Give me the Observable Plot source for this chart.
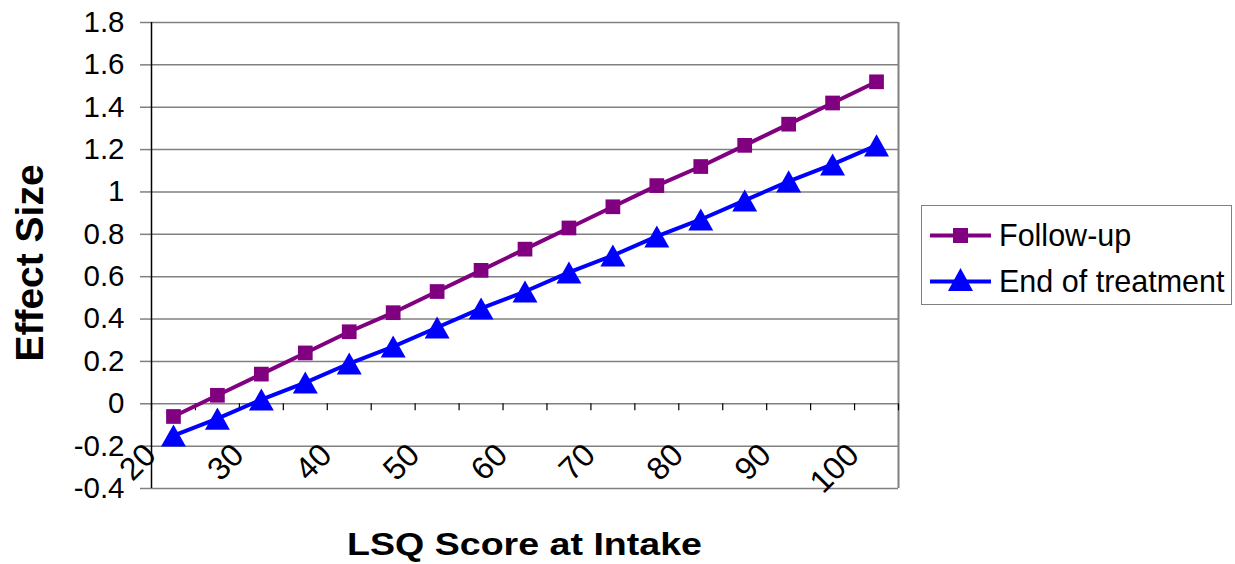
<!DOCTYPE html>
<html>
<head>
<meta charset="utf-8">
<script src="https://cdn.jsdelivr.net/npm/d3@7"></script>
<script src="https://cdn.jsdelivr.net/npm/@observablehq/plot@0.6"></script>
<style>
  html, body { margin: 0; padding: 0; background: #fff; }
  #wrap { position: relative; width: 1235px; height: 564px; font-family: "Liberation Sans", Arial, sans-serif; }
  #legend { position: absolute; left: 921px; top: 205px; width: 309px; height: 98px; border: 1.5px solid #808080; background: #fff; }
  .row { position: absolute; left: 8px; height: 40px; display: flex; align-items: center; font-size: 30.5px; color: #000; }
  .row svg { margin-right: 8px; }
</style>
</head>
<body>
<div id="wrap"></div>
<script>
const categories = [20, 25, 30, 35, 40, 45, 50, 55, 60, 65, 70, 75, 80, 85, 90, 95, 100];
const followUp = [-0.06, 0.04, 0.14, 0.24, 0.34, 0.43, 0.53, 0.63, 0.73, 0.83, 0.93, 1.03, 1.12, 1.22, 1.32, 1.42, 1.52];
const endOfTreatment = [-0.15, -0.07, 0.02, 0.10, 0.19, 0.27, 0.36, 0.45, 0.53, 0.62, 0.70, 0.79, 0.87, 0.96, 1.05, 1.13, 1.22];
const xTickLabels = [20, 30, 40, 50, 60, 70, 80, 90, 100];
const yTicks = [-0.4, -0.2, 0, 0.2, 0.4, 0.6, 0.8, 1, 1.2, 1.4, 1.6, 1.8];
const seriesNames = ["Follow-up", "End of treatment"];
const colors = ["#800080", "#0000FF"];

const step = categories[1] - categories[0];
const xDomain = [categories[0] - step / 2, categories[categories.length - 1] + step / 2];
const bounds = d3.range(categories.length + 1).map(i => xDomain[0] + i * step);

const fu = categories.map((c, i) => ({x: c, y: followUp[i]}));
const et = categories.map((c, i) => ({x: c, y: endOfTreatment[i]}));

const centeredTriangle = {
  draw(ctx, size) {
    const s = Math.sqrt(size);
    const w = s * 1.38, h = s * 1.22;
    ctx.moveTo(0, -h / 2);
    ctx.lineTo(w / 2, h / 2);
    ctx.lineTo(-w / 2, h / 2);
    ctx.closePath();
  }
};

const chart = Plot.plot({
  width: 1235,
  height: 564,
  marginLeft: 151,
  marginRight: 337,
  marginTop: 22,
  marginBottom: 76,
  style: {fontFamily: "Liberation Sans, Arial, sans-serif", background: "#fff", overflow: "visible"},
  x: {type: "linear", domain: xDomain},
  y: {domain: [-0.4, 1.8]},
  marks: [
    Plot.gridY(yTicks, {stroke: "#808080", strokeOpacity: 1, strokeWidth: 1.5}),
    Plot.axisY(yTicks, {tickSize: 11, tickPadding: 16, stroke: "#808080", strokeWidth: 1.5, fill: "#000", fontSize: 29.5, label: null,
      tickFormat: d => String(+d.toFixed(1))}),
    Plot.ruleX([xDomain[1]], {stroke: "#808080", strokeWidth: 2}),
    Plot.ruleX(bounds, {x: d => d, y1: 0, y2: 0, insetBottom: -7, stroke: "#000", strokeWidth: 1.2}),
    Plot.ruleX([xDomain[0]], {stroke: "#000", strokeWidth: 1.5}),
    Plot.text(xTickLabels, {x: d => d, y: 0, text: d => String(d), rotate: -45, textAnchor: "end", dx: -23, dy: 46, fontSize: 32, fill: "#000"}),
    Plot.line(fu, {x: "x", y: "y", stroke: colors[0], strokeWidth: 4}),
    Plot.dot(fu, {x: "x", y: "y", symbol: "square", r: 8.3, fill: colors[0], stroke: "none"}),
    Plot.line(et, {x: "x", y: "y", stroke: colors[1], strokeWidth: 4}),
    Plot.dot(et, {x: "x", y: "y", symbol: centeredTriangle, r: 10.2, fill: colors[1], stroke: "none"}),
    Plot.axisX({ticks: [], label: null})
  ]
});

const svg = d3.select(chart);
svg.append("text")
  .attr("x", 524.5).attr("y", 555)
  .attr("text-anchor", "middle")
  .attr("font-family", "Liberation Sans, Arial, sans-serif")
  .attr("font-weight", "bold").attr("font-size", 32)
  .attr("textLength", 355).attr("lengthAdjust", "spacingAndGlyphs")
  .attr("fill", "#000")
  .text("LSQ Score at Intake");
svg.append("text")
  .attr("transform", "translate(43,263) rotate(-90)")
  .attr("text-anchor", "middle")
  .attr("font-family", "Liberation Sans, Arial, sans-serif")
  .attr("font-weight", "bold").attr("font-size", 39)
  .attr("fill", "#000")
  .text("Effect Size");

const wrap = document.getElementById("wrap");
wrap.appendChild(chart);

const legend = document.createElement("div");
legend.id = "legend";
function swatch(color, kind) {
  const marker = kind === "square"
    ? `<rect x="23" y="13" width="15" height="15" fill="${color}"/>`
    : `<polygon points="30.5,7 43,30 18,30" fill="${color}"/>`;
  return `<svg width="61" height="40" viewBox="0 0 61 40"><line x1="0" y1="20.5" x2="61" y2="20.5" stroke="${color}" stroke-width="4"/>${marker}</svg>`;
}
legend.innerHTML =
  `<div class="row" style="top:9px">${swatch(colors[0], "square")}<span>${seriesNames[0]}</span></div>` +
  `<div class="row" style="top:55px">${swatch(colors[1], "triangle")}<span>${seriesNames[1]}</span></div>`;
wrap.appendChild(legend);
</script>
</body>
</html>
